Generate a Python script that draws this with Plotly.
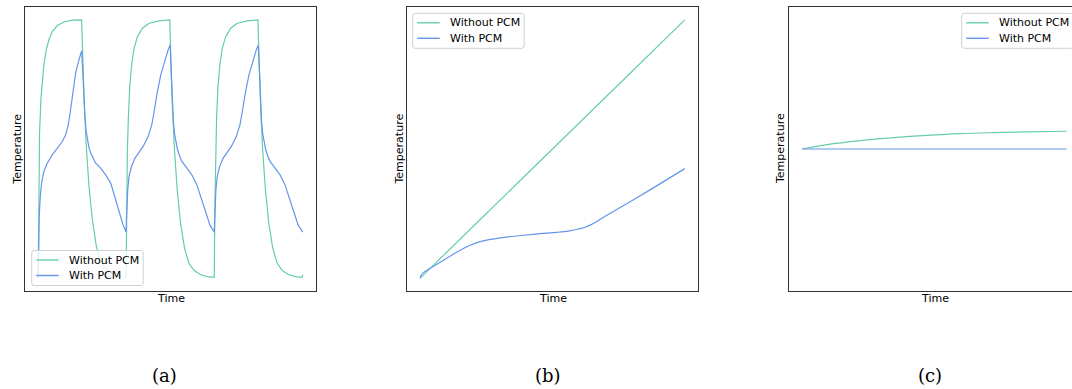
import plotly.graph_objects as go

# ---------------- data ----------------
# (a) cyclic heating / cooling, time in cycles, temperature normalised
time_a_without = [
    0.000, 0.008, 0.015, 0.030, 0.045, 0.064, 0.091, 0.121, 0.159, 0.216, 0.292, 0.386, 0.492,
    0.496, 0.508, 0.523, 0.545, 0.576, 0.614, 0.659, 0.708, 0.765, 0.841, 0.917, 0.996,
    1.004, 1.011, 1.023, 1.038, 1.061, 1.087, 1.125, 1.182, 1.258, 1.371, 1.492,
    1.496, 1.508, 1.523, 1.545, 1.576, 1.614, 1.659, 1.708, 1.765, 1.841, 1.917, 1.996,
    2.004, 2.011, 2.023, 2.038, 2.061, 2.087, 2.125, 2.182, 2.258, 2.371, 2.492,
    2.496, 2.508, 2.523, 2.545, 2.576, 2.614, 2.659, 2.708, 2.765, 2.841, 2.917, 2.992, 3.000,
]
temp_a_without = [
    0.000, 0.300, 0.561, 0.690, 0.768, 0.826, 0.884, 0.923, 0.955, 0.978, 0.992, 0.999, 1.000,
    0.948, 0.819, 0.665, 0.510, 0.355, 0.226, 0.123, 0.065, 0.035, 0.017, 0.009, 0.005,
    0.303, 0.497, 0.626, 0.742, 0.832, 0.890, 0.935, 0.968, 0.987, 0.996, 1.000,
    0.935, 0.794, 0.652, 0.497, 0.342, 0.213, 0.116, 0.058, 0.030, 0.013, 0.006, 0.003,
    0.300, 0.495, 0.625, 0.741, 0.831, 0.889, 0.934, 0.968, 0.987, 0.996, 1.000,
    0.936, 0.795, 0.653, 0.498, 0.343, 0.214, 0.117, 0.059, 0.030, 0.013, 0.006, 0.003, 0.013,
]
time_a_with = [
    0.000, 0.004, 0.011, 0.023, 0.038, 0.064, 0.102, 0.159, 0.216, 0.273, 0.311, 0.341, 0.367,
    0.394, 0.424, 0.462, 0.492,
    0.500, 0.508, 0.519, 0.530, 0.543, 0.557, 0.575, 0.595, 0.622, 0.652, 0.708, 0.765, 0.822,
    0.871, 0.917, 0.962, 0.996,
    1.000, 1.004, 1.009, 1.015, 1.030, 1.057, 1.098, 1.144, 1.193, 1.246, 1.288, 1.318, 1.348,
    1.390, 1.436, 1.473, 1.496,
    1.502, 1.508, 1.515, 1.523, 1.533, 1.545, 1.561, 1.580, 1.604, 1.629, 1.686, 1.742, 1.799,
    1.848, 1.894, 1.947, 1.996,
    2.000, 2.004, 2.009, 2.015, 2.030, 2.057, 2.098, 2.144, 2.193, 2.246, 2.288, 2.318, 2.348,
    2.390, 2.436, 2.473, 2.496,
    2.502, 2.508, 2.515, 2.523, 2.533, 2.545, 2.561, 2.580, 2.604, 2.629, 2.686, 2.742, 2.799,
    2.848, 2.894, 2.947, 3.000,
]
temp_a_with = [
    0.000, 0.116, 0.239, 0.316, 0.368, 0.413, 0.445, 0.477, 0.503, 0.529, 0.555, 0.594, 0.652,
    0.723, 0.794, 0.845, 0.880,
    0.830, 0.768, 0.690, 0.626, 0.570, 0.535, 0.505, 0.484, 0.462, 0.445, 0.426, 0.400, 0.368,
    0.316, 0.258, 0.206, 0.178,
    0.225, 0.277, 0.315, 0.342, 0.394, 0.432, 0.465, 0.486, 0.512, 0.548, 0.594, 0.652, 0.716,
    0.787, 0.845, 0.884, 0.903,
    0.850, 0.794, 0.725, 0.665, 0.605, 0.561, 0.525, 0.497, 0.472, 0.452, 0.426, 0.400, 0.361,
    0.310, 0.258, 0.206, 0.178,
    0.225, 0.277, 0.315, 0.342, 0.394, 0.432, 0.465, 0.486, 0.512, 0.548, 0.594, 0.652, 0.716,
    0.787, 0.845, 0.884, 0.903,
    0.850, 0.794, 0.725, 0.665, 0.605, 0.561, 0.525, 0.497, 0.472, 0.452, 0.426, 0.400, 0.361,
    0.310, 0.258, 0.206, 0.178,
]

# (b) continuous heating
time_b_without = [0.0, 0.25, 0.5, 0.75, 1.0]
temp_b_without = [0.0, 0.25, 0.5, 0.75, 1.0]
time_b_with = [
    0.000, 0.004, 0.013, 0.038, 0.088, 0.138, 0.189, 0.226, 0.264, 0.327, 0.390, 0.453,
    0.516, 0.560, 0.595, 0.620, 0.642, 0.665, 0.692, 0.830, 1.000,
]
temp_b_with = [
    0.000, 0.012, 0.022, 0.038, 0.069, 0.100, 0.127, 0.141, 0.150, 0.159, 0.166, 0.172,
    0.177, 0.182, 0.189, 0.196, 0.205, 0.218, 0.235, 0.318, 0.424,
]

# (c) small load
time_c_without = [0.0, 0.094, 0.220, 0.346, 0.472, 0.597, 0.723, 0.849, 1.0]
temp_c_without = [0.0, 0.031, 0.059, 0.080, 0.096, 0.108, 0.115, 0.120, 0.125]
time_c_with = [0.0, 1.0]
temp_c_with = [0.0, 0.0]

series_names = ["Without PCM", "With PCM"]
captions = ["(a)", "(b)", "(c)"]

GREEN = "#66cdaa"
BLUE = "#6495ed"
W, H = 1072, 389
FONT = "DejaVu Sans"


def px_x(x):
    return x / W


def px_y(y):
    return 1 - y / H


fig = go.Figure()

panels = [
    (time_a_without, temp_a_without, time_a_with, temp_a_with, "linear"),
    (time_b_without, temp_b_without, time_b_with, temp_b_with, "spline"),
    (time_c_without, temp_c_without, time_c_with, temp_c_with, "spline"),
]
for i, (tx0, ty0, tx1, ty1, shape) in enumerate(panels):
    ax = "" if i == 0 else str(i + 1)
    fig.add_trace(go.Scatter(x=tx0, y=ty0, mode="lines", name=series_names[0],
                             line=dict(color=GREEN, width=1.2, shape=shape),
                             xaxis="x" + ax, yaxis="y" + ax, showlegend=False))
    fig.add_trace(go.Scatter(x=tx1, y=ty1, mode="lines", name=series_names[1],
                             line=dict(color=BLUE, width=1.2, shape=shape),
                             xaxis="x" + ax, yaxis="y" + ax, showlegend=False))

# axes frames (pixel boxes converted to paper fractions)
frame_left = [25, 407, 789]
frame_width = 291
y_dom = [px_y(291), px_y(7)]
x_ranges = [[-0.15, 3.15], [-0.05, 1.05],
            [-0.05, -0.05 + (W - 789) / frame_width * 1.1]]
y_ranges = [[-0.05, 1.05], [-0.05, 1.05], [-1.0, 1.0]]

axis_common = dict(showticklabels=False, ticks="", showgrid=False, zeroline=False,
                   showline=True, linecolor="#333333", linewidth=1.1)
layout = {}
for i in range(3):
    ax = "" if i == 0 else str(i + 1)
    x0 = px_x(frame_left[i])
    x1 = min(1.0, px_x(frame_left[i] + frame_width))
    layout["xaxis" + ax] = dict(domain=[x0, x1], range=x_ranges[i], mirror=True,
                                anchor="y" + ax, **axis_common)
    layout["yaxis" + ax] = dict(domain=y_dom, range=y_ranges[i], mirror=(i < 2),
                                anchor="x" + ax, **axis_common)

fig.update_layout(
    width=W, height=H, margin=dict(l=0, r=0, t=0, b=0),
    paper_bgcolor="white", plot_bgcolor="white", showlegend=False,
    **layout,
)

annotations = []
shapes = []
label_font = dict(family=FONT, size=11, color="#000000")

# axis labels
for i in range(3):
    cx = frame_left[i] + frame_width / 2
    annotations.append(dict(x=px_x(cx), y=px_y(298), xref="paper", yref="paper",
                            text="Time", showarrow=False, font=label_font,
                            xanchor="center", yanchor="middle"))
ylab_x = [16.7, 398.5, 780]
for i in range(3):
    annotations.append(dict(x=px_x(ylab_x[i]), y=px_y(149), xref="paper", yref="paper",
                            text="Temperature", showarrow=False, font=label_font,
                            textangle=-90, xanchor="center", yanchor="middle"))

# captions under each panel
cap_x = [164.7, 547.5, 930]
for i in range(3):
    annotations.append(dict(x=px_x(cap_x[i]), y=px_y(375), xref="paper", yref="paper",
                            text=captions[i], showarrow=False,
                            font=dict(family="DejaVu Serif", size=18, color="#000000"),
                            xanchor="center", yanchor="middle"))


# legends (box + line samples + labels), positioned in pixels
def add_legend(left, top, width=111.5, height=35, row=15.5):
    r = 2.5
    l, t, rgt, b = left, top, left + width, top + height
    path = (
        f"M {px_x(l + r)},{px_y(t)} L {px_x(rgt - r)},{px_y(t)} "
        f"Q {px_x(rgt)},{px_y(t)} {px_x(rgt)},{px_y(t + r)} "
        f"L {px_x(rgt)},{px_y(b - r)} Q {px_x(rgt)},{px_y(b)} {px_x(rgt - r)},{px_y(b)} "
        f"L {px_x(l + r)},{px_y(b)} Q {px_x(l)},{px_y(b)} {px_x(l)},{px_y(b - r)} "
        f"L {px_x(l)},{px_y(t + r)} Q {px_x(l)},{px_y(t)} {px_x(l + r)},{px_y(t)} Z"
    )
    shapes.append(dict(type="path", path=path, xref="paper", yref="paper",
                       fillcolor="rgba(255,255,255,0.8)",
                       line=dict(color="#d0d0d0", width=1), layer="above"))
    for k, (name, col) in enumerate(zip(series_names, [GREEN, BLUE])):
        yy = top + 9.5 + k * row
        shapes.append(dict(type="line", xref="paper", yref="paper",
                           x0=px_x(left + 4.5), x1=px_x(left + 27), y0=px_y(yy), y1=px_y(yy),
                           line=dict(color=col, width=1.4), layer="above"))
        annotations.append(dict(x=px_x(left + 35), y=px_y(yy), xref="paper", yref="paper",
                                text=name, showarrow=False, font=label_font,
                                xanchor="left", yanchor="middle"))


add_legend(31.7, 250.5)
add_legend(412.7, 13.3)
add_legend(961.7, 13.3)

fig.update_layout(annotations=annotations, shapes=shapes)

fig.write_html("out.html", config={"displayModeBar": False})
